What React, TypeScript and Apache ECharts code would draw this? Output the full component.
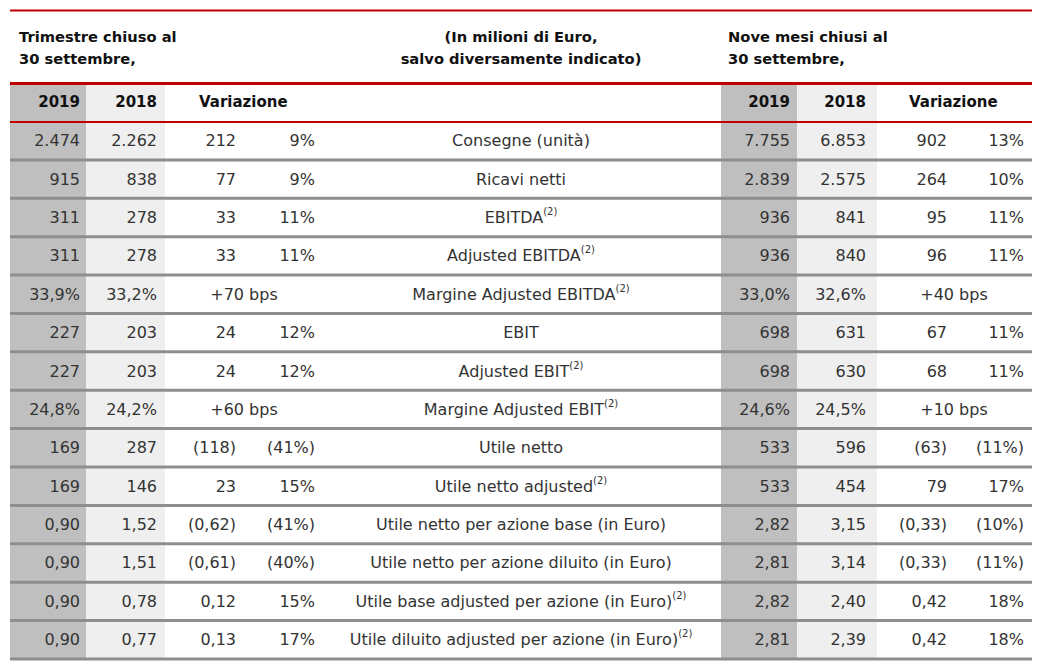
import React, { useEffect, useRef } from 'react';
import * as echarts from 'echarts';

// ---- Data ----
const years = ['2019', '2018'];
const changeHeader = 'Variazione';
const titleLeft = ['Trimestre chiuso al', '30 settembre,'];
const titleCenter = ['(In milioni di Euro,', 'salvo diversamente indicato)'];
const titleRight = ['Nove mesi chiusi al', '30 settembre,'];

const labels = [
  'Consegne (unità)',
  'Ricavi netti',
  'EBITDA',
  'Adjusted EBITDA',
  'Margine Adjusted EBITDA',
  'EBIT',
  'Adjusted EBIT',
  'Margine Adjusted EBIT',
  'Utile netto',
  'Utile netto adjusted',
  'Utile netto per azione base (in Euro)',
  'Utile netto per azione diluito (in Euro)',
  'Utile base adjusted per azione (in Euro)',
  'Utile diluito adjusted per azione (in Euro)',
];
const notes = ['', '', '(2)', '(2)', '(2)', '', '(2)', '(2)', '', '(2)', '', '', '(2)', '(2)'];

const q2019 = ['2.474', '915', '311', '311', '33,9%', '227', '227', '24,8%', '169', '169', '0,90', '0,90', '0,90', '0,90'];
const q2018 = ['2.262', '838', '278', '278', '33,2%', '203', '203', '24,2%', '287', '146', '1,52', '1,51', '0,78', '0,77'];
const qChange = ['212', '77', '33', '33', '+70 bps', '24', '24', '+60 bps', '(118)', '23', '(0,62)', '(0,61)', '0,12', '0,13'];
const qChangePct = ['9%', '9%', '11%', '11%', '', '12%', '12%', '', '(41%)', '15%', '(41%)', '(40%)', '15%', '17%'];

const n2019 = ['7.755', '2.839', '936', '936', '33,0%', '698', '698', '24,6%', '533', '533', '2,82', '2,81', '2,82', '2,81'];
const n2018 = ['6.853', '2.575', '841', '840', '32,6%', '631', '630', '24,5%', '596', '454', '3,15', '3,14', '2,40', '2,39'];
const nChange = ['902', '264', '95', '96', '+40 bps', '67', '68', '+10 bps', '(63)', '79', '(0,33)', '(0,33)', '0,42', '0,42'];
const nChangePct = ['13%', '10%', '11%', '11%', '', '11%', '11%', '', '(11%)', '17%', '(10%)', '(11%)', '18%', '18%'];

// ---- Layout (page px along x axis) ----
const COL = {
  tableL: 10, tableR: 1032,
  lDarkL: 10, lDarkR: 86, lLightR: 165,
  l2019: 80, l2018: 157, lAbs: 236, lPct: 315, lBps: 244, lVar: 199,
  label: 521,
  rDarkL: 721, rDarkR: 797, rLightR: 877,
  r2019: 790, r2018: 866, rAbs: 947, rPct: 1024, rBps: 954, rVar: 909,
};

const FONT = '"DejaVu Sans", sans-serif';
const RED = '#c00000';
const DARK = '#bfbfbf';
const LIGHT = '#efefef';
const SEP = '#8e8e8e';
const TXT = '#333333';
const HTXT = '#111111';

export default function App() {
  const ref = useRef<HTMLDivElement>(null);

  useEffect(() => {
    document.body.style.margin = '0';
    const chart = echarts.init(ref.current!, null, { renderer: 'svg' });
    const rowKeys = ['header', ...labels];
    const data = rowKeys.map((_, i) => [COL.tableL, i]);

    const renderItem = (params: any, api: any) => {
      const r = api.value(1) as number;
      const c = api.coord([COL.tableL, r]);
      const bh = api.size([0, 1])[1];
      const top = c[1] - bh / 2;
      const bottom = c[1] + bh / 2;
      const mid = c[1];
      const X = (v: number) => api.coord([v, r])[0];
      const children: any[] = [];
      const rect = (x0: number, x1: number, y0: number, y1: number, fill: string, z2: number) => ({
        type: 'rect',
        shape: { x: X(x0), y: y0, width: X(x1) - X(x0), height: y1 - y0 },
        style: { fill },
        z2,
      });
      const txt = (s: string, x: number, align: string, bold = false, z2 = 30) => ({
        type: 'text',
        z2,
        style: {
          text: s,
          x: X(x),
          y: mid,
          align,
          verticalAlign: 'middle',
          fontFamily: FONT,
          fontSize: bold ? 15 : 16,
          fontWeight: bold ? 'bold' : 'normal',
          fill: bold ? HTXT : TXT,
        },
      });

      // column backgrounds
      children.push(rect(COL.lDarkL, COL.lDarkR, top, bottom, DARK, 1));
      children.push(rect(COL.lDarkR, COL.lLightR, top, bottom, LIGHT, 1));
      children.push(rect(COL.rDarkL, COL.rDarkR, top, bottom, DARK, 1));
      children.push(rect(COL.rDarkR, COL.rLightR, top, bottom, LIGHT, 1));

      if (r === 0) {
        children.push(rect(COL.tableL, COL.tableR, top - 1.2, top + 1.8, RED, 20));
        children.push(rect(COL.tableL, COL.tableR, bottom - 0.5, bottom + 1.5, RED, 20));
        children.push(txt(years[0], COL.l2019, 'right', true));
        children.push(txt(years[1], COL.l2018, 'right', true));
        children.push(txt(changeHeader, COL.lVar, 'left', true));
        children.push(txt(years[0], COL.r2019, 'right', true));
        children.push(txt(years[1], COL.r2018, 'right', true));
        children.push(txt(changeHeader, COL.rVar, 'left', true));
      } else {
        const i = r - 1;
        children.push(rect(COL.tableL, COL.tableR, bottom - 1.5, bottom + 1.5, SEP, 10));
        children.push(txt(q2019[i], COL.l2019, 'right'));
        children.push(txt(q2018[i], COL.l2018, 'right'));
        if (qChangePct[i]) {
          children.push(txt(qChange[i], COL.lAbs, 'right'));
          children.push(txt(qChangePct[i], COL.lPct, 'right'));
        } else {
          children.push(txt(qChange[i], COL.lBps, 'center'));
        }
        children.push(txt(n2019[i], COL.r2019, 'right'));
        children.push(txt(n2018[i], COL.r2018, 'right'));
        if (nChangePct[i]) {
          children.push(txt(nChange[i], COL.rAbs, 'right'));
          children.push(txt(nChangePct[i], COL.rPct, 'right'));
        } else {
          children.push(txt(nChange[i], COL.rBps, 'center'));
        }
        const rich = notes[i] ? `{m|${labels[i]}}{s|${notes[i]}}` : `{m|${labels[i]}}`;
        children.push({
          type: 'text',
          z2: 30,
          style: {
            text: rich,
            x: X(COL.label),
            y: mid,
            align: 'center',
            verticalAlign: 'middle',
            rich: {
              m: { fontFamily: FONT, fontSize: 16, fill: TXT, lineHeight: 22, verticalAlign: 'middle' },
              s: { fontFamily: FONT, fontSize: 10, fill: TXT, lineHeight: 12, verticalAlign: 'top' },
            },
          },
        });
      }
      return { type: 'group', children };
    };

    const titleStyle = { lineHeight: 22, fontFamily: FONT, fontSize: 14.7, fontWeight: 'bold', fill: HTXT, verticalAlign: 'top' };

    chart.setOption({
      animation: false,
      grid: { left: 10, right: 6, top: 83.2, height: 575.7, containLabel: false },
      xAxis: { type: 'value', min: COL.tableL, max: COL.tableR, show: false },
      yAxis: { type: 'category', data: rowKeys, inverse: true, show: false },
      graphic: [
        { type: 'rect', shape: { x: 10, y: 9.5, width: 1022, height: 2 }, style: { fill: RED } },
        { type: 'text', x: 19, y: 25, style: { ...titleStyle, text: titleLeft.join('\n'), align: 'left' } },
        { type: 'text', x: 521, y: 25, style: { ...titleStyle, text: titleCenter.join('\n'), align: 'center' } },
        { type: 'text', x: 728, y: 25, style: { ...titleStyle, text: titleRight.join('\n'), align: 'left' } },
      ],
      series: [
        {
          type: 'custom',
          renderItem,
          data,
          encode: { x: 0, y: 1 },
          clip: false,
        },
      ],
    });
    return () => chart.dispose();
  }, []);

  return <div ref={ref} style={{ position: 'absolute', left: 0, top: 0, width: 1038, height: 666, background: '#fff' }} />;
}
